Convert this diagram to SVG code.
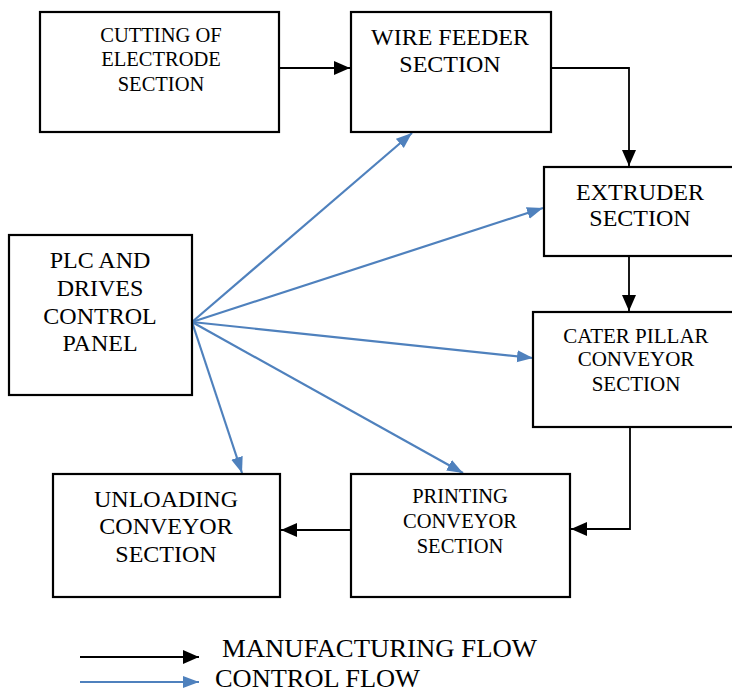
<svg xmlns="http://www.w3.org/2000/svg" width="732" height="693" viewBox="0 0 732 693">
<style>
.box{fill:#fff;stroke:#000;stroke-width:2.2}
.t{font-family:'Liberation Serif','Times New Roman',Tinos,'Noto Serif','DejaVu Serif',serif;fill:#000;text-anchor:middle}
.mf{fill:none;stroke:#000;stroke-width:1.8}
.cf{fill:none;stroke:#4F81BD;stroke-width:2.2}
</style>
<defs>
<marker id="ab" markerUnits="userSpaceOnUse" markerWidth="16" markerHeight="16" viewBox="0 0 16 16" refX="16" refY="8" orient="auto">
<path d="M0,1 L16,8 L0,15 Z" fill="#000"/>
</marker>
<marker id="au" markerUnits="userSpaceOnUse" markerWidth="16" markerHeight="14" viewBox="0 0 16 14" refX="16" refY="7" orient="auto">
<path d="M0,1 L16,7 L0,13 Z" fill="#4F81BD"/>
</marker>
</defs>
<rect width="732" height="693" fill="#fff"/>
<g id="connectors">
<path class="mf" d="M279,68 H350" marker-end="url(#ab)"/>
<path class="mf" d="M551,68 H629 V166" marker-end="url(#ab)"/>
<path class="mf" d="M629,256 V311" marker-end="url(#ab)"/>
<path class="mf" d="M630,427 V529 H571" marker-end="url(#ab)"/>
<path class="mf" d="M351,530 H281" marker-end="url(#ab)"/>
<path class="cf" d="M192,322 L412,133" marker-end="url(#au)"/>
<path class="cf" d="M192,322 L543,208" marker-end="url(#au)"/>
<path class="cf" d="M192,322 L533,358" marker-end="url(#au)"/>
<path class="cf" d="M192,322 L463,473" marker-end="url(#au)"/>
<path class="cf" d="M192,322 L242,473" marker-end="url(#au)"/>
</g>
<g id="cutting">
<rect class="box" x="40" y="12" width="239" height="120"/>
<text class="t" font-size="20.5" x="161" y="42">CUTTING OF</text>
<text class="t" font-size="20.5" x="161" y="66">ELECTRODE</text>
<text class="t" font-size="20.5" x="161" y="91">SECTION</text>
</g>
<g id="wirefeeder">
<rect class="box" x="351" y="12" width="200" height="120"/>
<text class="t" font-size="24" x="450" y="45">WIRE FEEDER</text>
<text class="t" font-size="24" x="450" y="72">SECTION</text>
</g>
<g id="extruder">
<rect class="box" x="544" y="167" width="195" height="89"/>
<text class="t" font-size="24" x="640" y="200">EXTRUDER</text>
<text class="t" font-size="24" x="640" y="226">SECTION</text>
</g>
<g id="caterpillar">
<rect class="box" x="533" y="312" width="206" height="115"/>
<text class="t" font-size="21" x="636" y="343">CATER PILLAR</text>
<text class="t" font-size="21" x="636" y="366">CONVEYOR</text>
<text class="t" font-size="21" x="636" y="391">SECTION</text>
</g>
<g id="plc">
<rect class="box" x="9" y="235" width="183" height="160"/>
<text class="t" font-size="24" x="100" y="268">PLC AND</text>
<text class="t" font-size="24" x="100" y="296">DRIVES</text>
<text class="t" font-size="24" x="100" y="324">CONTROL</text>
<text class="t" font-size="24" x="100" y="351">PANEL</text>
</g>
<g id="printing">
<rect class="box" x="351" y="474" width="219" height="123"/>
<text class="t" font-size="20.5" x="460" y="503">PRINTING</text>
<text class="t" font-size="20.5" x="460" y="528">CONVEYOR</text>
<text class="t" font-size="20.5" x="460" y="553">SECTION</text>
</g>
<g id="unloading">
<rect class="box" x="53" y="474" width="227" height="123"/>
<text class="t" font-size="24" x="166" y="507">UNLOADING</text>
<text class="t" font-size="24" x="166" y="534">CONVEYOR</text>
<text class="t" font-size="24" x="166" y="562">SECTION</text>
</g>
<g id="legend">
<path class="mf" d="M80,657 H199" marker-end="url(#ab)"/>
<path class="cf" d="M80,682 H199" marker-end="url(#au)"/>
<text class="t" style="text-anchor:start" font-size="25" x="222" y="657" textLength="315" lengthAdjust="spacingAndGlyphs">MANUFACTURING FLOW</text>
<text class="t" style="text-anchor:start" font-size="25" x="215" y="687" textLength="205" lengthAdjust="spacingAndGlyphs">CONTROL FLOW</text>
</g>
</svg>
